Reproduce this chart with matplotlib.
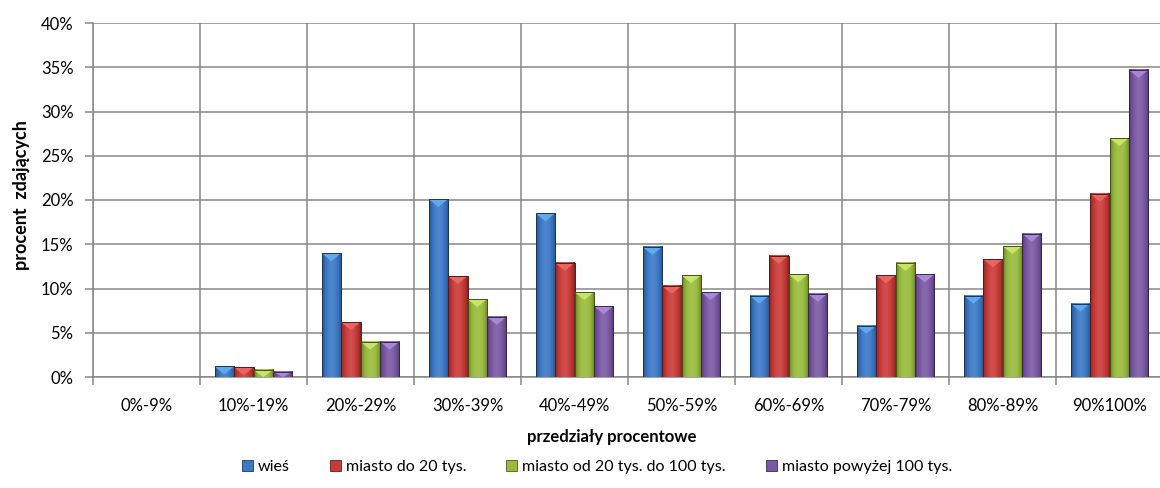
import numpy as np
import matplotlib
matplotlib.use("Agg")
import matplotlib.pyplot as plt
from matplotlib.patches import Polygon, Patch
from matplotlib.colors import to_rgb
from matplotlib.ticker import FuncFormatter

plt.rcParams['font.family'] = ['Lato', 'DejaVu Sans']

categories = ['0%-9%', '10%-19%', '20%-29%', '30%-39%', '40%-49%',
              '50%-59%', '60%-69%', '70%-79%', '80%-89%', '90%100%']
series_names = ['wieś', 'miasto do 20 tys.', 'miasto od 20 tys. do 100 tys.',
                'miasto powyżej 100 tys.']
wies = [0.0, 1.2, 14.0, 20.1, 18.5, 14.7, 9.2, 5.8, 9.2, 8.3]
miasto20 = [0.0, 1.1, 6.2, 11.4, 12.9, 10.3, 13.7, 11.5, 13.3, 20.7]
miasto20_100 = [0.0, 0.8, 4.0, 8.8, 9.6, 11.5, 11.6, 12.9, 14.8, 27.0]
miasto100 = [0.0, 0.6, 4.0, 6.8, 8.0, 9.6, 9.4, 11.6, 16.2, 34.7]
yticks = [0, 5, 10, 15, 20, 25, 30, 35, 40]

series = [wies, miasto20, miasto20_100, miasto100]
base_colors = ['#3b78c6', '#c93a37', '#98bb3c', '#7a58a4']
top_colors = ['#62a8ee', '#e86560', '#c8e56a', '#a887d8']

W, H = 1160, 488
fig = plt.figure(figsize=(W / 100, H / 100), dpi=100)
left_px, right_px, top_px, bottom_px = 93, 1163, 23, 377
ax = fig.add_axes([left_px / W, 1 - bottom_px / H,
                   (right_px - left_px) / W, (bottom_px - top_px) / H])

n_cat = len(categories)
n_ser = len(series)
gap = 1.5
bw = 1.0 / (n_ser + gap)
x = np.arange(n_cat)

grid_col = '#878787'
ax.set_yticks(yticks)
ax.yaxis.set_major_formatter(FuncFormatter(lambda v, p: f'{int(v)}%'))
ax.grid(axis='y', color=grid_col, lw=1.1, zorder=0)
ax.set_xticks(x)
ax.set_xticklabels(categories)
ax.set_xticks(np.arange(-0.5, n_cat, 1.0), minor=True)
ax.grid(axis='x', which='minor', color=grid_col, lw=1.1, zorder=0)
ax.tick_params(axis='x', which='major', length=0, pad=15, labelsize=12, colors='black')
ax.tick_params(axis='x', which='minor', length=6, width=1.1, color=grid_col, direction='out')
ax.tick_params(axis='y', length=6, width=1.1, color=grid_col, pad=8, labelsize=12)
for s in ['top', 'right']:
    ax.spines[s].set_visible(False)
for s in ['left', 'bottom']:
    ax.spines[s].set_color(grid_col)
    ax.spines[s].set_linewidth(1.1)

px_per_y = (bottom_px - top_px) / 40.0
tri_h = 8.0 / px_per_y

def shade(c, f):
    c = np.array(to_rgb(c))
    if f < 1:
        return c * f
    return c + (1 - c) * (f - 1)

prof_t = np.linspace(0, 1, 40)
prof = 0.62 + 0.48 * np.sin(np.pi * prof_t) ** 0.6
prof = prof - 0.06 * (prof_t - 0.35) ** 2

for i, (vals, bc, tc) in enumerate(zip(series, base_colors, top_colors)):
    offs = (i - (n_ser - 1) / 2) * bw
    bars = ax.bar(x + offs, vals, width=bw, color=bc, edgecolor='none', zorder=2)
    grad = np.clip(np.array([[shade(bc, f) for f in prof]]), 0, 1)
    for b in bars:
        h = b.get_height()
        if h <= 0:
            continue
        x0 = b.get_x()
        w = b.get_width()
        ax.imshow(grad, extent=(x0, x0 + w, 0, h), aspect='auto',
                  interpolation='bilinear', zorder=3)
        th = min(tri_h, h)
        tri = Polygon([[x0, h], [x0 + w, h], [x0 + w / 2, h - th]],
                      closed=True, facecolor=tc, edgecolor='none', zorder=4)
        ax.add_patch(tri)
        ax.add_patch(plt.Rectangle((x0, 0), w, h, fill=False,
                                   edgecolor=shade(bc, 0.45), lw=0.7, zorder=5))

ax.set_xlim(-0.5, n_cat - 0.5)
ax.set_ylim(0, 40)

fig.text(22 / W, 1 - 195 / H, 'procent  zdających', rotation=90, ha='center',
         va='center', fontsize=13, fontweight='bold')
fig.text(612 / W, 1 - 437 / H, 'przedziały procentowe', ha='center',
         va='center', fontsize=12, fontweight='bold')

handles = [Patch(facecolor=c, edgecolor=shade(c, 0.5), lw=0.6) for c in base_colors]
fig.legend(handles, series_names, loc='center', bbox_to_anchor=(597 / W, 1 - 467 / H),
           ncol=4, frameon=False, fontsize=11.5, handlelength=0.7, handleheight=0.7,
           handletextpad=0.3, columnspacing=2.5)

fig.savefig('out.png', dpi=100)
